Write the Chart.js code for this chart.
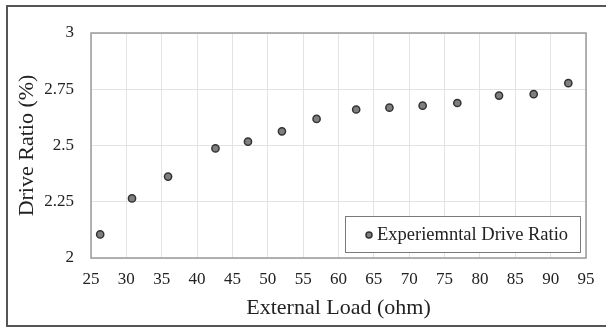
<!DOCTYPE html>
<html>
<head>
<meta charset="utf-8">
<script src="https://cdn.jsdelivr.net/npm/chart.js@4"></script>
<style>
  html, body { margin: 0; padding: 0; background: #fff; overflow: hidden; }
  #wrap { position: relative; width: 606px; height: 327px; }
  #frame { position: absolute; left: 6px; top: 5px; width: 620px; height: 318px; border: 2px solid #555; }
  canvas { position: absolute; left: 0; top: 0; }
</style>
</head>
<body>
<div id="wrap">
  <div id="frame"></div>
  <canvas id="chart" width="606" height="327"></canvas>
</div>
<script>
// Experimental drive ratio vs external load
const loadOhm = [26.3, 30.8, 35.9, 42.6, 47.2, 52.0, 56.9, 62.5, 67.2, 71.9, 76.8, 82.7, 87.6, 92.5];
const driveRatio = [2.105, 2.265, 2.362, 2.487, 2.517, 2.563, 2.618, 2.660, 2.668, 2.677, 2.689, 2.722, 2.728, 2.777];
const xTicks = [25, 30, 35, 40, 45, 50, 55, 60, 65, 70, 75, 80, 85, 90, 95];
const yTicks = [2, 2.25, 2.5, 2.75, 3];

const serif = 'Liberation Serif';

// plot frame + boxed legend inside the plot area
const framePlugin = {
    id: 'framePlugin',
    afterDatasetsDraw(chart) {
        const { ctx, chartArea: a } = chart;
        ctx.save();
        ctx.strokeStyle = '#9a9a9a';
        ctx.lineWidth = 1.5;
        ctx.strokeRect(a.left, a.top, a.right - a.left, a.bottom - a.top);

        const ds = chart.data.datasets[0];
        const bx = a.right - 241, by = a.bottom - 42, bw = 235, bh = 36;
        ctx.fillStyle = '#fff';
        ctx.fillRect(bx, by, bw, bh);
        ctx.strokeStyle = '#7a7a7a';
        ctx.lineWidth = 1;
        ctx.strokeRect(bx + 0.5, by + 0.5, bw, bh);
        ctx.beginPath();
        ctx.arc(bx + 24, by + bh / 2 + 1, 3, 0, Math.PI * 2);
        ctx.fillStyle = ds.backgroundColor;
        ctx.fill();
        ctx.lineWidth = 1.5;
        ctx.strokeStyle = ds.borderColor;
        ctx.stroke();
        ctx.fillStyle = '#222';
        ctx.font = '18.5px ' + serif;
        ctx.textBaseline = 'middle';
        ctx.fillText(ds.label, bx + 32, by + bh / 2 + 1);
        ctx.restore();
    }
};

new Chart(document.getElementById('chart'), {
    type: 'scatter',
    data: {
        datasets: [{
            label: 'Experiemntal Drive Ratio',
            data: loadOhm.map((x, i) => ({ x: x, y: driveRatio[i] })),
            backgroundColor: '#7f7f7f',
            borderColor: '#333',
            borderWidth: 1.5,
            pointRadius: 3.6
        }]
    },
    options: {
        responsive: false,
        animation: false,
        layout: { padding: { top: 33, right: 20, left: 0, bottom: 0 } },
        plugins: { legend: { display: false }, tooltip: { enabled: false } },
        scales: {
            x: {
                type: 'linear', min: 25, max: 95,
                afterBuildTicks: s => { s.ticks = xTicks.map(v => ({ value: v })); },
                afterFit: s => { s.height = 69; },
                grid: { color: '#e3e3e3', drawTicks: false },
                border: { display: false },
                ticks: { color: '#222', font: { family: serif, size: 17 }, padding: 11, maxRotation: 0, callback: v => String(v) },
                title: { display: true, text: 'External Load (ohm)', color: '#222', font: { family: serif, size: 22 }, padding: { top: 0, bottom: 6 } }
            },
            y: {
                min: 2, max: 3,
                afterBuildTicks: s => { s.ticks = yTicks.map(v => ({ value: v })); },
                afterFit: s => { s.width = 91; },
                grid: { color: '#e3e3e3', drawTicks: false },
                border: { display: false },
                ticks: { color: '#222', font: { family: serif, size: 17 }, padding: 17, callback: v => String(v) },
                title: { display: true, text: 'Drive Ratio (%)', color: '#222', font: { family: serif, size: 22 }, padding: { top: 14, bottom: 0 } }
            }
        }
    },
    plugins: [framePlugin]
});
</script>
</body>
</html>
